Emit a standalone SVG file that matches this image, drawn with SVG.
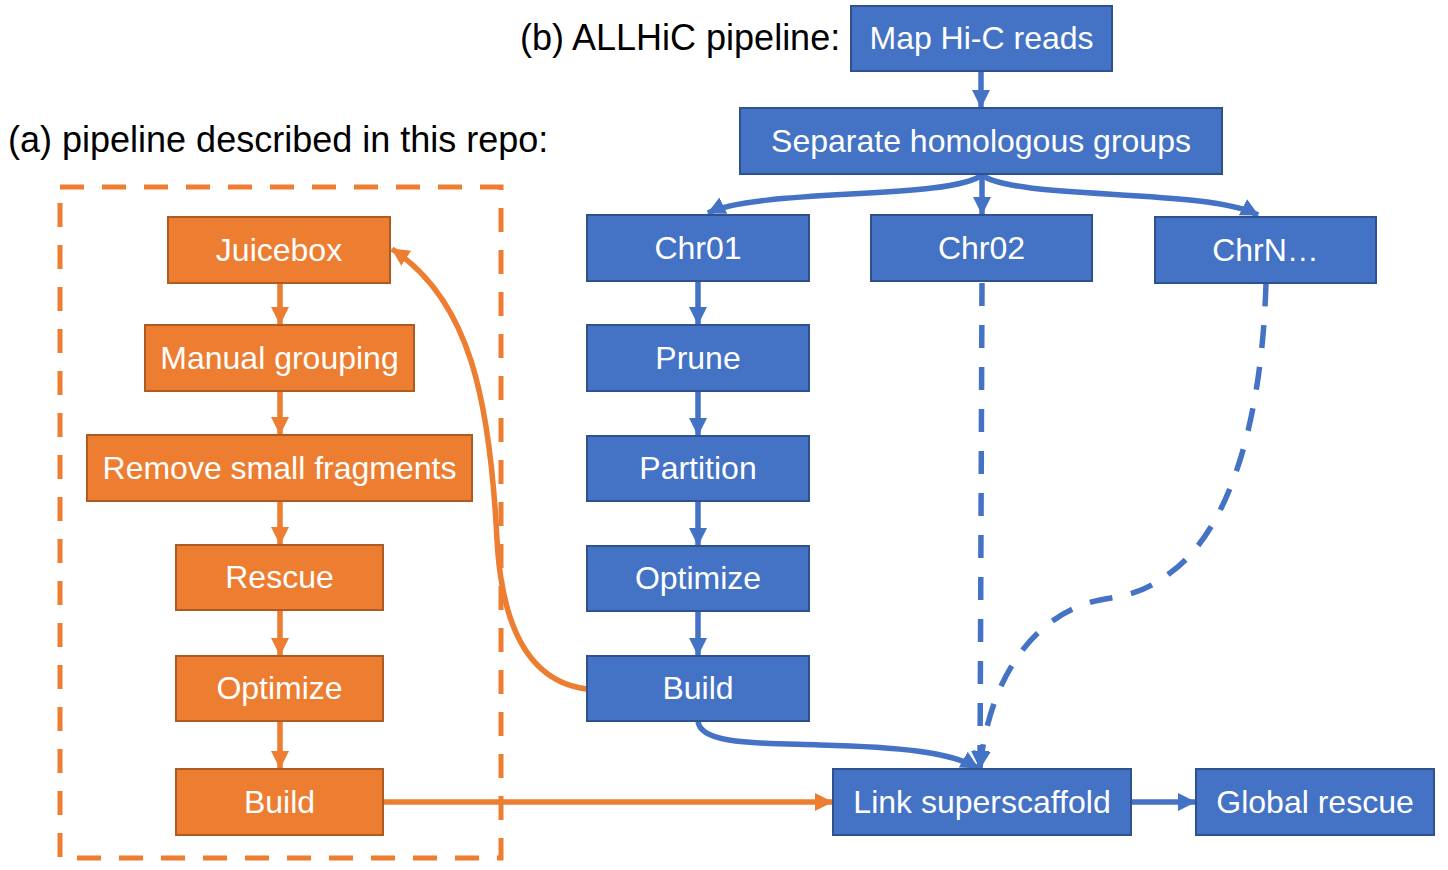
<svg xmlns="http://www.w3.org/2000/svg" width="1448" height="870" viewBox="0 0 1448 870">
<style>
.b{fill:#4472C4;stroke:#2F528F;stroke-width:2}
.o{fill:#ED7D31;stroke:#AE5A21;stroke-width:2}
.t{font-family:"Liberation Sans",Arial,sans-serif;font-size:32px;fill:#fff;text-anchor:middle}
.lbl{font-family:"Liberation Sans",Arial,sans-serif;font-size:36px;fill:#000}
.cb{fill:none;stroke:#4472C4;stroke-width:5.5}
.co{fill:none;stroke:#ED7D31;stroke-width:5.5}
.d{stroke-dasharray:23 19}
</style>
<defs>
<marker id="ab" markerUnits="userSpaceOnUse" markerWidth="22" markerHeight="22" refX="17" refY="9" orient="auto"><path d="M0,0 L18,9 L0,18 z" fill="#4472C4"/></marker>
<marker id="ao" markerUnits="userSpaceOnUse" markerWidth="22" markerHeight="22" refX="17" refY="9" orient="auto"><path d="M0,0 L18,9 L0,18 z" fill="#ED7D31"/></marker>
</defs>
<text class="lbl" x="520" y="50">(b) ALLHiC pipeline:</text>
<text class="lbl" x="8" y="152">(a) pipeline described in this repo:</text>
<rect x="60" y="187" width="441" height="671" fill="none" stroke="#ED7D31" stroke-width="5" stroke-dasharray="24 18"/>
<g id="connectors">
<path class="cb" marker-end="url(#ab)" d="M981,71 L981,107"/>
<path class="cb" marker-end="url(#ab)" d="M982,175 L982,214"/>
<path class="cb" marker-end="url(#ab)" d="M982,175 C950,200 760,188 708,213"/>
<path class="cb" marker-end="url(#ab)" d="M982,175 C1014,200 1206,188 1258,215"/>
<path class="cb" marker-end="url(#ab)" d="M698,281 L698,324"/>
<path class="cb" marker-end="url(#ab)" d="M698,391 L698,435"/>
<path class="cb" marker-end="url(#ab)" d="M698,501 L698,545"/>
<path class="cb" marker-end="url(#ab)" d="M698,611 L698,655"/>
<path class="cb" marker-end="url(#ab)" d="M698,721 C700,745 760,743 820,745 C900,747 950,752 978,768"/>
<path class="cb d" marker-end="url(#ab)" d="M982,283 L980,768"/>
<path class="cb d" marker-end="url(#ab)" d="M1266,283 C1262,420 1230,530 1170,573 C1140,596 1120,596 1100,600 C1040,612 990,670 980,768"/>
<path class="cb" marker-end="url(#ab)" d="M1131,802 L1195,802"/>
<path class="co" marker-end="url(#ao)" d="M280,283 L280,324"/>
<path class="co" marker-end="url(#ao)" d="M280,391 L280,434"/>
<path class="co" marker-end="url(#ao)" d="M280,501 L280,544"/>
<path class="co" marker-end="url(#ao)" d="M280,610 L280,655"/>
<path class="co" marker-end="url(#ao)" d="M280,721 L280,768"/>
<path class="co" marker-end="url(#ao)" d="M383,802 L832,802"/>
<path class="co" marker-end="url(#ao)" d="M587,689 C530,682 502,630 497,540 C490,400 470,300 392,249"/>
</g>
<g id="map"><rect class="b" x="851" y="6" width="261" height="65"/><text class="t" x="981.5" y="49">Map Hi-C reads</text></g>
<g id="separate"><rect class="b" x="740" y="108" width="482" height="66"/><text class="t" x="981" y="152">Separate homologous groups</text></g>
<g id="chr01"><rect class="b" x="587" y="215" width="222" height="66"/><text class="t" x="698" y="259">Chr01</text></g>
<g id="chr02"><rect class="b" x="871" y="215" width="221" height="66"/><text class="t" x="981.5" y="259">Chr02</text></g>
<g id="chrn"><rect class="b" x="1155" y="217" width="221" height="66"/><text class="t" x="1265.5" y="261">ChrN…</text></g>
<g id="prune"><rect class="b" x="587" y="325" width="222" height="66"/><text class="t" x="698" y="369">Prune</text></g>
<g id="partition"><rect class="b" x="587" y="436" width="222" height="65"/><text class="t" x="698" y="479">Partition</text></g>
<g id="optimize_b"><rect class="b" x="587" y="546" width="222" height="65"/><text class="t" x="698" y="589">Optimize</text></g>
<g id="build_b"><rect class="b" x="587" y="656" width="222" height="65"/><text class="t" x="698" y="699">Build</text></g>
<g id="link"><rect class="b" x="833" y="769" width="298" height="66"/><text class="t" x="982" y="813">Link superscaffold</text></g>
<g id="global"><rect class="b" x="1196" y="769" width="238" height="66"/><text class="t" x="1315" y="813">Global rescue</text></g>
<g id="juicebox"><rect class="o" x="168" y="217" width="222" height="66"/><text class="t" x="279" y="261">Juicebox</text></g>
<g id="manual"><rect class="o" x="145" y="325" width="269" height="66"/><text class="t" x="279.5" y="369">Manual grouping</text></g>
<g id="remove"><rect class="o" x="87" y="435" width="385" height="66"/><text class="t" x="279.5" y="479">Remove small fragments</text></g>
<g id="rescue"><rect class="o" x="176" y="545" width="207" height="65"/><text class="t" x="279.5" y="588">Rescue</text></g>
<g id="optimize_o"><rect class="o" x="176" y="656" width="207" height="65"/><text class="t" x="279.5" y="699">Optimize</text></g>
<g id="build_o"><rect class="o" x="176" y="769" width="207" height="66"/><text class="t" x="279.5" y="813">Build</text></g>
</svg>
